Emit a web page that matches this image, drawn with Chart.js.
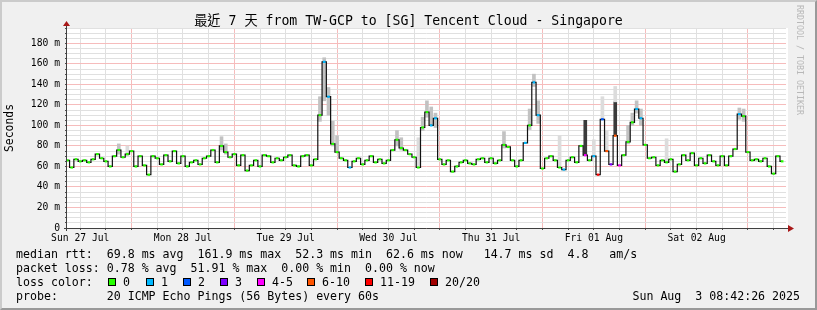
<!DOCTYPE html>
<html>
<head>
<meta charset="utf-8">
<script src="https://cdn.jsdelivr.net/npm/chart.js@4.4.1/dist/chart.umd.min.js"></script>
<style>
  html, body { margin: 0; padding: 0; background: #f0f0f0; }
  #wrap {
    position: relative; width: 817px; height: 310px; overflow: hidden;
    background: #f0f0f0; color: #000;
    font-family: "DejaVu Sans Mono", "Noto Sans CJK TC", monospace;
  }
  #chart { position: absolute; left: 0; top: 0; }
  #frame {
    position: absolute; left: 0; top: 0; width: 817px; height: 310px; box-sizing: border-box;
    border-style: solid; border-width: 2px; border-color: #cbcbcb #999 #999 #cbcbcb;
    pointer-events: none;
  }
  .title { position: absolute; left: 0; top: 12px; width: 817px; text-align: center; font-size: 13.2px; line-height: 18px; white-space: pre; }
  .mark { position: absolute; left: 795px; top: 5px; writing-mode: vertical-rl; font-size: 8.3px; line-height: 10px; color: #b8b8b8; white-space: pre; }
  .info { position: absolute; left: 16px; font-size: 11.6px; line-height: 14px; white-space: pre; }
  .box { position: absolute; top: 278px; width: 6px; height: 6px; border: 1px solid #000; }
</style>
</head>
<body>
<div id="wrap">
  <canvas id="chart" width="817" height="310"></canvas>
  <div class="title">最近 7 天 from TW-GCP to [SG] Tencent Cloud - Singapore</div>
  <div class="mark">RRDTOOL / TOBI OETIKER</div>
  <div class="info" style="top:247px">median rtt:  69.8 ms avg  161.9 ms max  52.3 ms min  62.6 ms now   14.7 ms sd  4.8   am/s</div>
  <div class="info" style="top:261px">packet loss: 0.78 % avg  51.91 % max  0.00 % min  0.00 % now</div>
  <div class="info" style="top:275px">loss color:</div>
  <div id="lossLegend"></div>
  <div class="info" style="top:289px">probe:       20 ICMP Echo Pings (56 Bytes) every 60s</div>
  <div class="info" style="top:289px; left:auto; right:17px">Sun Aug  3 08:42:26 2025</div>
  <div id="frame"></div>
</div>
<script>
// hours are counted from Mon 28 Jul 00:00, one median value per hour
const firstHour = -15;
const medianRtt = [
  66, 59, 67, 65, 66, 64, 67, 72, 68, 65, 60, 70, 76, 69, 72,
  75, 60, 70, 61, 52, 70, 68, 62, 71, 65, 75, 63, 70, 60, 64, 66, 62, 68, 70, 76, 64, 80, 74, 69,
  72, 61, 71, 56, 61, 66, 60, 71, 70, 64, 68, 66, 69, 71, 61, 60, 70, 71, 61, 67, 110, 162, 128, 82,
  74, 68, 66, 59, 65, 68, 62, 66, 70, 64, 67, 63, 66, 76, 86, 78, 76, 72, 69, 59, 98, 113, 100, 107,
  67, 62, 66, 55, 60, 64, 66, 63, 62, 67, 68, 64, 68, 63, 66, 81, 79, 66, 60, 66, 83, 100, 142, 110,
  58, 68, 70, 66, 59, 57, 66, 69, 64, 80, 71, 66, 70, 52, 106, 75, 62, 90, 61, 71, 84, 103, 116, 107,
  81, 68, 69, 61, 66, 64, 67, 55, 62, 71, 66, 73, 61, 68, 63, 71, 65, 61, 70, 61, 70, 77, 111, 109,
  74, 66, 67, 65, 68, 60, 53, 70, 65
];

// hours whose median had packet loss, and the loss class (index into lossLabels)
const lossHours  = [45, 46, 51, 70, 71, 92, 94, 95, 101, 106, 108, 109, 110, 111, 112, 113, 114, 118, 119, 142];
const lossLevels = [1,  1,  1,  1,  1,  1,  1,  1,  1,   4,   1,   6,   2,   5,   3,   5,   4,   1,   1,   1];
const lossLabels = ['0', '1', '2', '3', '4-5', '6-10', '11-19', '20/20'];
const lossColors = ['#26ff00', '#00b8ff', '#0059ff', '#7e00ff', '#ff00ff', '#ff5500', '#ff0000', '#a10000'];

// smoke: [hour, lowest ping, highest ping]
const smokeMid = [
  [-3, 72, 82], [21, 76, 89], [22, 72, 82], [44, 104, 128], [45, 124, 166], [46, 110, 137],
  [47, 80, 104], [48, 74, 90], [62, 80, 95], [63, 76, 88], [68, 95, 108], [69, 108, 124],
  [70, 100, 118], [71, 98, 112], [87, 78, 94], [93, 96, 116], [94, 138, 150], [95, 102, 124],
  [116, 82, 100], [117, 100, 112], [118, 112, 124], [119, 100, 116], [142, 106, 117], [143, 104, 116]
];
const smokeLight = [
  [-1, 70, 80], [67, 59, 88], [100, 59, 90], [108, 70, 86], [110, 106, 128], [111, 75, 95],
  [113, 123, 138], [125, 64, 87]
];
const smokeDark = [[106, 71, 105], [113, 90, 123]];

const dayLabels = ['Sun 27 Jul', 'Mon 28 Jul', 'Tue 29 Jul', 'Wed 30 Jul', 'Thu 31 Jul', 'Fri 01 Aug', 'Sat 02 Aug'];

// ---- legend boxes
const boxX = [108, 146, 183, 220, 257, 307, 365, 430];
const legend = document.getElementById('lossLegend');
lossLabels.forEach((lab, i) => {
  const b = document.createElement('div');
  b.className = 'box';
  b.style.left = boxX[i] + 'px';
  b.style.background = lossColors[i];
  legend.appendChild(b);
  const t = document.createElement('div');
  t.className = 'info';
  t.style.top = '275px';
  t.style.left = (boxX[i] + 15) + 'px';
  t.textContent = lab;
  legend.appendChild(t);
});

const pointColors = medianRtt.map((v, i) => {
  const k = lossHours.indexOf(firstHour + i);
  return k < 0 ? lossColors[0] : lossColors[lossLevels[k]];
});

const MAJOR = '#f6bcbc';
const MINOR = '#e0e0e0';
const tickFont = { family: 'DejaVu Sans Mono', size: 9.7 };

const rrdFrame = {
  id: 'rrdFrame',
  beforeDraw(chart) {
    const { ctx, chartArea: a } = chart;
    ctx.save();
    ctx.fillStyle = '#ffffff';
    ctx.fillRect(a.left, a.top, a.right - a.left + 2, a.bottom - a.top);
    ctx.restore();
  },
  afterDraw(chart) {
    const { ctx, chartArea: a } = chart;
    ctx.save();
    ctx.strokeStyle = '#404040';
    ctx.lineWidth = 1;
    ctx.beginPath();
    ctx.moveTo(a.left - 3, a.bottom + 0.5);
    ctx.lineTo(a.right + 3, a.bottom + 0.5);
    ctx.moveTo(a.left - 0.5, a.bottom + 3);
    ctx.lineTo(a.left - 0.5, a.top - 3);
    ctx.stroke();
    ctx.fillStyle = '#a81818';
    ctx.beginPath();
    ctx.moveTo(a.right + 2, a.bottom - 3);
    ctx.lineTo(a.right + 8, a.bottom + 0.5);
    ctx.lineTo(a.right + 2, a.bottom + 4);
    ctx.fill();
    ctx.beginPath();
    ctx.moveTo(a.left - 4, a.top - 2);
    ctx.lineTo(a.left - 0.5, a.top - 7);
    ctx.lineTo(a.left + 3, a.top - 2);
    ctx.fill();
    ctx.restore();
  }
};

const smokeSet = (rows, color) => ({
  type: 'bar',
  data: rows.map(r => ({ x: r[0], y: [r[1], r[2]] })),
  backgroundColor: color,
  borderWidth: 0,
  barThickness: 3,
  grouped: false,
  order: 2
});

new Chart(document.getElementById('chart').getContext('2d'), {
  type: 'line',
  data: {
    datasets: [
      {
        data: medianRtt.map((v, i) => ({ x: firstHour + i, y: v })),
        borderColor: '#111',
        borderWidth: 1.2,
        stepped: 'middle',
        pointStyle: 'line',
        pointRadius: 1.3,
        pointBorderWidth: 2.2,
        pointBorderColor: pointColors,
        pointBackgroundColor: pointColors,
        order: 0
      },
      smokeSet(smokeLight, '#dcdcdc'),
      smokeSet(smokeMid, '#c2c2c2'),
      smokeSet(smokeDark, '#3a3a3a')
    ]
  },
  plugins: [rrdFrame],
  options: {
    responsive: false,
    animation: false,
    events: [],
    layout: { padding: { left: 0, right: 31, top: 28, bottom: 0 } },
    plugins: { legend: { display: false }, tooltip: { enabled: false }, title: { display: false } },
    scales: {
      x: {
        type: 'linear',
        offset: false,
        min: -15.1,
        max: 152.9,
        afterBuildTicks: scale => {
          const t = [];
          for (let h = -12; h <= 150; h += 6) t.push({ value: h });
          scale.ticks = t;
        },
        afterFit: scale => { scale.height = 82; },
        grid: {
          offset: false,
          color: c => (c.tick && c.tick.value % 24 === 0 ? MAJOR : MINOR),
          lineWidth: 1,
          drawTicks: true,
          tickLength: 2,
          tickColor: '#505050'
        },
        border: { display: false },
        ticks: {
          autoSkip: false,
          maxRotation: 0,
          padding: 3,
          color: '#000',
          font: tickFont,
          callback: v => (((v % 24) + 24) % 24 === 12 ? dayLabels[(v + 12) / 24] : '')
        }
      },
      y: {
        type: 'linear',
        min: 0,
        max: 195,
        afterBuildTicks: scale => {
          const t = [];
          for (let v = 0; v <= 195; v += 5) t.push({ value: v });
          scale.ticks = t;
        },
        afterFit: scale => { scale.width = 67; },
        grid: {
          color: c => (c.tick && c.tick.value % 20 === 0 ? MAJOR : MINOR),
          lineWidth: 1,
          drawTicks: true,
          tickLength: 2,
          tickColor: '#505050'
        },
        border: { display: false },
        ticks: {
          autoSkip: false,
          padding: 5,
          color: '#000',
          font: tickFont,
          callback: v => (v % 20 === 0 ? (v === 0 ? '0' : v + ' m') : '')
        },
        title: {
          display: true,
          text: 'Seconds',
          color: '#000',
          font: { family: 'DejaVu Sans Mono', size: 11.4 },
          padding: { top: 3, bottom: 0 }
        }
      }
    }
  }
});
</script>
</body>
</html>
